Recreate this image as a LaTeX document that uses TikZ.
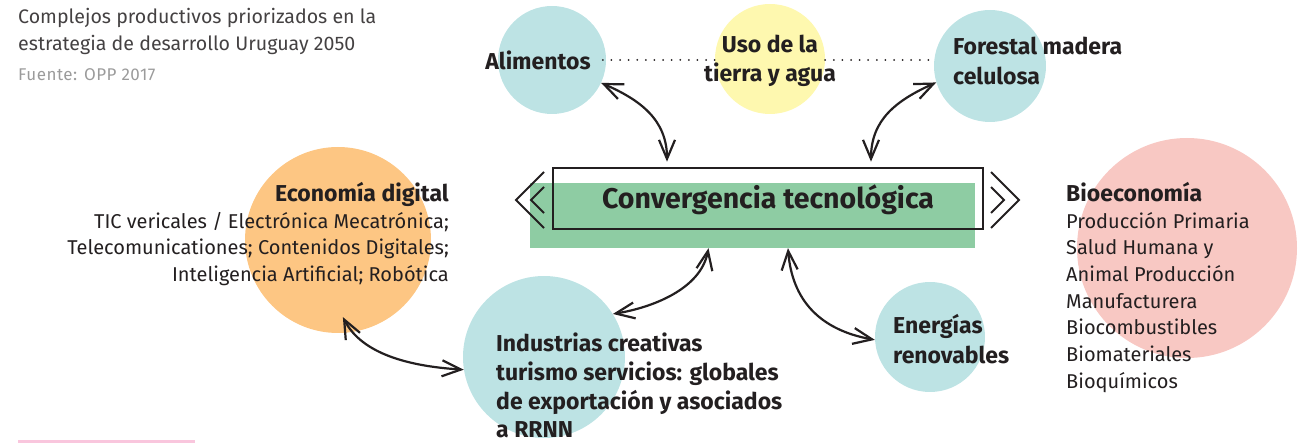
\documentclass[tikz,border=0pt]{standalone}
\usepackage{fontspec}
\setmainfont{Fira Sans}
\usepackage{xcolor}
\usetikzlibrary{arrows.meta}
\definecolor{ink}{HTML}{231F20}
\definecolor{tealBlob}{HTML}{BDE3E4}
\definecolor{yellowBlob}{HTML}{FEF8AF}
\definecolor{orangeBlob}{HTML}{FDC683}
\definecolor{pinkBlob}{HTML}{F8C8C3}
\definecolor{greenBar}{HTML}{8ECCA3}
\definecolor{pinkRule}{HTML}{F9C6DD}
\definecolor{grayNote}{HTML}{9B9B9B}
\begin{document}
\begin{tikzpicture}[x=1pt,y=-1pt,
  blob/.style={circle,inner sep=0pt,minimum size=#1},
  lbl/.style={inner sep=0pt,text=ink,font=\fontsize{23}{29.3}\selectfont\bfseries},
  body/.style={inner sep=0pt,text=ink,font=\fontsize{20}{26.7}\selectfont},
  link/.style={{Straight Barb[length=19pt,width=16pt]}-{Straight Barb[length=19pt,width=16pt]},line width=2.2pt,ink},
  dots/.style={line width=2pt,line cap=round,dash pattern=on 0pt off 8.6pt,ink}]
\useasboundingbox (0,0) rectangle (1302,443);
\node[blob=108pt,fill=tealBlob] (alimC) at (552,60) {};
\node[blob=110pt,fill=yellowBlob] (usoC) at (770,59) {};
\node[blob=112pt,fill=tealBlob] (forC) at (990,66) {};
\node[blob=186pt,fill=orangeBlob] (ecoC) at (338,240) {};
\node[blob=162pt,fill=tealBlob] (indC) at (544,357) {};
\node[blob=110pt,fill=tealBlob] (eneC) at (930,337) {};
\node[blob=220pt,fill=pinkBlob] (bioC) at (1187,248) {};
\fill[pinkRule] (18,440.5) rectangle (195,443);
\node[inner sep=0pt,text=ink!85,font=\fontsize{19.6}{27}\selectfont,align=left,anchor=north west] (title) at (18,8) {Complejos productivos priorizados en la\\estrategia de desarrollo Uruguay 2050};
\node[inner sep=0pt,anchor=north west,text=grayNote,font=\fontsize{17}{20}\selectfont\addfontfeatures{LetterSpace=3}] (src) at (18,68) {Fuente: OPP 2017};
\node[lbl] (alim) at (538,60) {Alimentos};
\node[lbl,align=center] (uso) at (770,61) {Uso de la\\tierra y agua};
\node[lbl,align=left,anchor=west] (forest) at (953,61) {Forestal madera\\celulosa};
\node[body,align=right,anchor=north east] (eco) at (449,182) {{\fontsize{23}{26.7}\selectfont\bfseries Economía digital}\\TIC vericales / Electrónica Mecatrónica;\\Telecomunicationes; Contenidos Digitales;\\Inteligencia Artificial; Robótica};
\node[lbl,align=left,anchor=north west,font=\fontsize{23}{28.6}\selectfont\bfseries] (ind) at (496,333) {Industrias creativas\\turismo servicios: globales\\de exportación y asociados\\a RRNN};
\node[lbl,align=left,anchor=west] (ene) at (893,339) {Energías\\renovables};
\node[body,align=left,anchor=north west] (bio) at (1066,182) {{\fontsize{23}{26.7}\selectfont\bfseries Bioeconomía}\\Producción Primaria\\Salud Humana y\\Animal Producción\\Manufacturera\\Biocombustibles\\Biomateriales\\Bioquímicos};
\node[fill=greenBar,minimum width=445pt,minimum height=65pt,inner sep=0pt] (bar) at (752.5,215.5) {};
\node[draw=ink,line width=2.6pt,minimum width=430pt,minimum height=61pt,inner sep=0pt] (box) at (768,198.5) {};
\node[text=ink,font=\fontsize{28.5}{30}\selectfont\bfseries] (conv) at (768,200) {Convergencia tecnológica};
\draw[ink,line width=2pt] (544,172) -- (516,200) -- (544,228) (544,187) -- (531,200) -- (544,213);
\draw[ink,line width=2pt] (991,172) -- (1019,200) -- (991,228) (991,187) -- (1004,200) -- (991,213);
\draw[dots] ([xshift=12pt]alim.east) -- (alim.east -| usoC.west);
\draw[dots] (alim.east -| usoC.east) -- (alim.east -| forC.west);
\draw[link] (alimC.-25) .. controls +(39,17) and +(0,-42) .. ([xshift=-101pt,yshift=5pt]box.north);
\draw[link] (forC.-163) .. controls +(-40,18) and +(0,-42) .. ([xshift=103pt,yshift=5pt]box.north);
\draw[link] ([xshift=-44pt]bar.south) .. controls +(-8,42) and +(37,-6) .. (indC.32);
\draw[link] ([xshift=35.5pt]bar.south) .. controls +(4,52) and +(-55,-10) .. (eneC.-177);
\draw[link] ([yshift=16pt]ecoC.-87) .. controls +(17,33) and +(-64,-4) .. (indC.-171);
\end{tikzpicture}
\end{document}
